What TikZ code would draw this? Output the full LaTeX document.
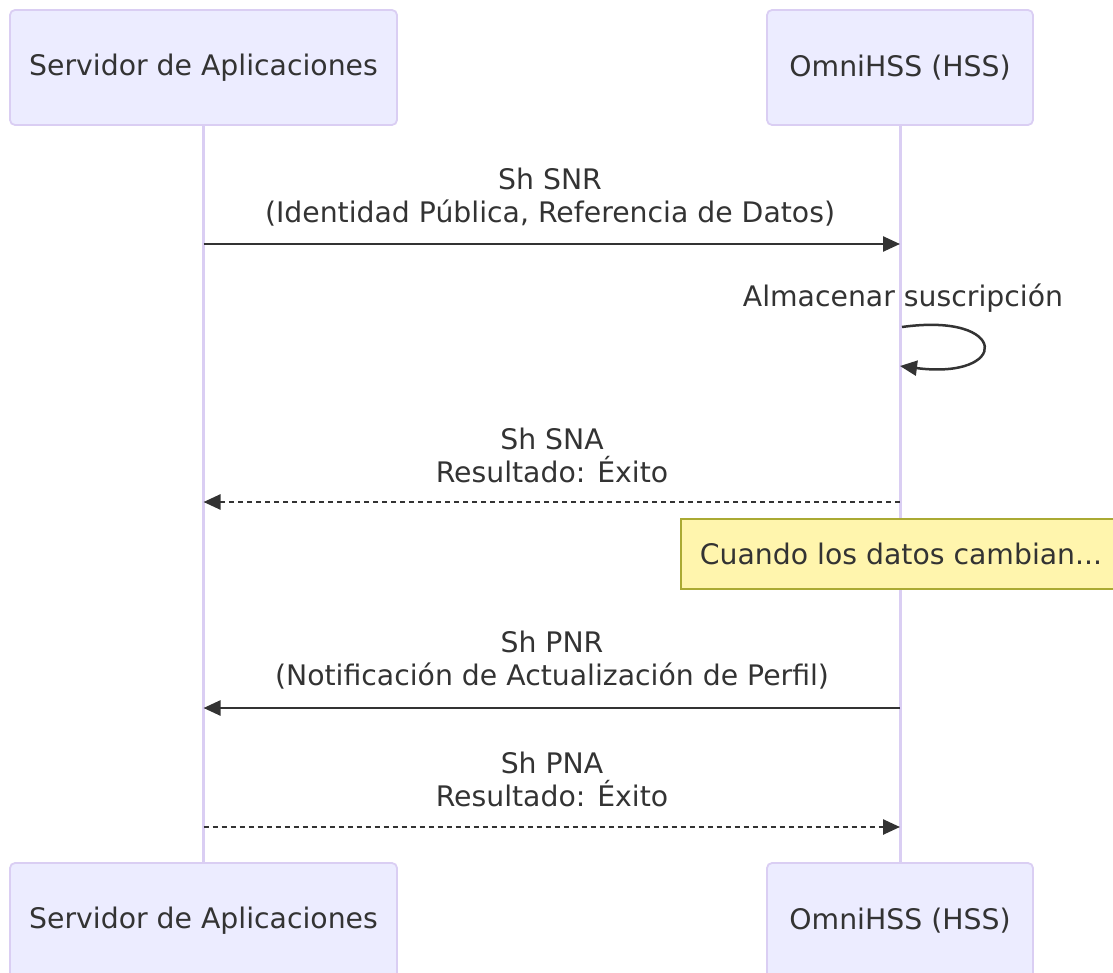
\documentclass[tikz,border=0pt]{standalone}
\usepackage{fontspec}
\setmainfont{DejaVu Sans}
\usetikzlibrary{arrows.meta}

\definecolor{actorfill}{HTML}{ECECFF}
\definecolor{actorline}{HTML}{DACEF3}
\definecolor{inkgray}{HTML}{333333}
\definecolor{notefill}{HTML}{FFF5AD}
\definecolor{noteline}{HTML}{AAAA33}

\begin{document}
\begin{tikzpicture}[x=1pt, y=-1pt, >={Triangle[length=17pt, width=15pt]},
    font=\fontsize{28.3}{33}\selectfont, text=inkgray,
    actor/.style={draw=actorline, line width=1.8pt, fill=actorfill, rounded corners=5pt,
        minimum height=115pt, inner sep=0pt},
    life/.style={draw=actorline, line width=3pt},
    msg/.style={draw=inkgray, line width=2.5pt},
    reply/.style={msg, dash pattern=on 5pt off 4pt},
    msglabel/.style={align=center, inner sep=0pt},
    note/.style={draw=noteline, line width=1.8pt, fill=notefill, minimum width=440pt,
        minimum height=70pt, inner sep=0pt}]

    % --- PAGE ---
    \useasboundingbox (0,0) rectangle (1113,973);
    \clip (0,0) rectangle (1113,973);

    % --- PARAMETERS ---
    \def\xAS{203.5} \def\xHSS{900}
    \def\yTop{67.5} \def\yBot{920.5}

    % --- ACTORS ---
    \node[actor, minimum width=387pt] (AS_top) at (\xAS,\yTop) {Servidor de Aplicaciones};
    \node[actor, minimum width=266pt] (HSS_top) at (\xHSS,\yTop) {OmniHSS (HSS)};
    \node[actor, minimum width=387pt] (AS_bot) at (\xAS,\yBot) {Servidor de Aplicaciones};
    \node[actor, minimum width=266pt] (HSS_bot) at (\xHSS,\yBot) {OmniHSS (HSS)};

    % --- LIFELINES ---
    \draw[life] (AS_top.south) -- (AS_bot.north);
    \draw[life] (HSS_top.south) -- (HSS_bot.north);

    % --- ANCHORS ON LIFELINES ---
    \coordinate (AS_snr) at (\xAS,244);   \coordinate (HSS_snr) at (\xHSS,244);
    \coordinate (HSS_in) at (902,327);    \coordinate (HSS_out) at (900,366);
    \coordinate (AS_sna) at (\xAS,502);   \coordinate (HSS_sna) at (\xHSS,502);
    \coordinate (AS_pnr) at (\xAS,708);   \coordinate (HSS_pnr) at (\xHSS,708);
    \coordinate (AS_pna) at (\xAS,827);   \coordinate (HSS_pna) at (\xHSS,827);

    % --- MESSAGES ---
    \node[msglabel] (lbl_snr) at (550,197) {Sh SNR\\(Identidad Pública, Referencia de Datos)};
    \draw[msg, ->] (AS_snr) -- (HSS_snr);

    \node[msglabel] (lbl_store) at (903,298) {Almacenar suscripción};
    \draw[msg, ->] (HSS_in) .. controls (1010,312) and (1010,380) .. (HSS_out);

    \node[msglabel] (lbl_sna) at (552,455) {Sh SNA\\Resultado: Éxito};
    \draw[reply, ->] (HSS_sna) -- (AS_sna);

    \node[note] (cambio) at (901,554) {Cuando los datos cambian...};

    \node[msglabel] (lbl_pnr) at (552,660) {Sh PNR\\(Notificación de Actualización de Perfil)};
    \draw[msg, ->] (HSS_pnr) -- (AS_pnr);

    \node[msglabel] (lbl_pna) at (552,779) {Sh PNA\\Resultado: Éxito};
    \draw[reply, ->] (AS_pna) -- (HSS_pna);

\end{tikzpicture}
\end{document}
